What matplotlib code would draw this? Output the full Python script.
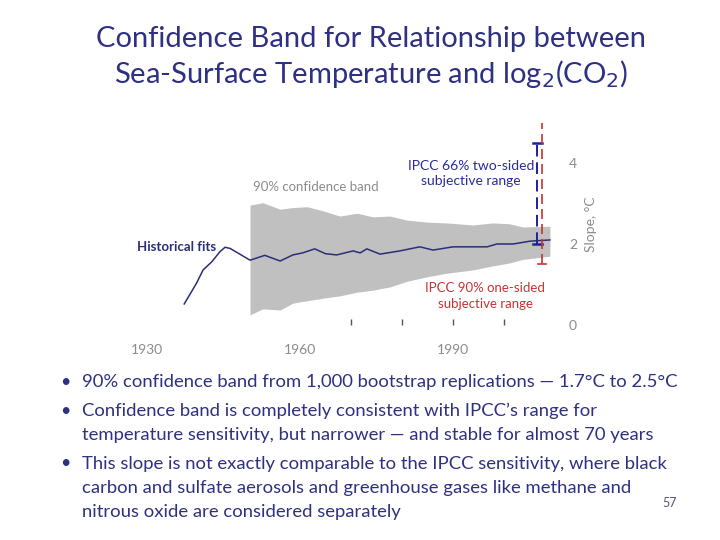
import numpy as np
import matplotlib
matplotlib.use("Agg")
import matplotlib.pyplot as plt
from matplotlib.markers import TICKUP

plt.rcParams['font.family'] = ['Lato', 'DejaVu Sans']

#----------------------------------------------------------------
#   DATA
#----------------------------------------------------------------
fit_years = [1937.3, 1939.7, 1941.0, 1942.7, 1944.3, 1945.3, 1946.3, 1948.2,
             1950.2, 1953.1, 1956.1, 1958.6, 1960.5, 1962.9, 1965.0, 1967.2,
             1970.4, 1971.8, 1973.1, 1975.7, 1979.6, 1983.5, 1986.1, 1990.0,
             1996.7, 1998.6, 2001.8, 2005.1, 2009.0]
fit_slope = [0.52, 1.03, 1.36, 1.56, 1.81, 1.92, 1.89, 1.75,
             1.60, 1.72, 1.58, 1.73, 1.78, 1.88, 1.76, 1.73,
             1.83, 1.78, 1.88, 1.75, 1.83, 1.93, 1.85, 1.93,
             1.93, 2.00, 2.00, 2.07, 2.10]

band_years = [1950.2, 1952.7, 1956.1, 1958.6, 1961.4, 1964.5, 1967.8, 1971.2,
              1974.3, 1977.6, 1981.0, 1984.9, 1988.8, 1993.9, 1997.8, 2001.0,
              2003.7, 2009.0]
band_upper = [2.96, 3.02, 2.86, 2.90, 2.92, 2.82, 2.69, 2.76,
              2.67, 2.69, 2.59, 2.54, 2.52, 2.47, 2.52, 2.50,
              2.42, 2.44]
band_lower = [0.25, 0.40, 0.37, 0.54, 0.60, 0.66, 0.72, 0.81,
              0.86, 0.94, 1.08, 1.19, 1.28, 1.36, 1.46, 1.53,
              1.62, 1.70]

ipcc66_year, ipcc66_lo, ipcc66_hi = 2006.5, 2.0, 4.5
ipcc90_year, ipcc90_lo, ipcc90_hi = 2007.5, 1.5, 5.0

label_years = [1930, 1960, 1990]
tick_years = [1970, 1980, 1990, 2000]

bullets = [
    ["90% confidence band from 1,000 bootstrap replications \u2014 1.7\u00b0C to 2.5\u00b0C"],
    ["Confidence band is completely consistent with IPCC\u2019s range for",
     "temperature sensitivity, but narrower \u2014 and stable for almost 70 years"],
    ["This slope is not exactly comparable to the IPCC sensitivity, where black",
     "carbon and sulfate aerosols and greenhouse gases like methane and",
     "nitrous oxide are considered separately"],
]

navy = '#2E3082'
gray = '#8C8C8C'
red = '#C83232'

#----------------------------------------------------------------
#   FIGURE
#----------------------------------------------------------------
fig = plt.figure(figsize=(7.2, 5.4), dpi=100)
ax = fig.add_axes([121.5 / 720, 1 - 325 / 540, (555 - 121.5) / 720, 202.5 / 540])

ax.fill_between(band_years, band_lower, band_upper, color='#C0C0C0', lw=0)
ax.plot(fit_years, fit_slope, color='#2B2E78', lw=1.1)

# IPCC ranges
ax.plot([ipcc66_year, ipcc66_year], [ipcc66_lo, ipcc66_hi], color='#1F1FA0',
        lw=1.4, ls=(0, (6, 3)))
ax.plot([ipcc66_year - 0.9, ipcc66_year + 0.9], [ipcc66_hi] * 2, color='#1F1FA0', lw=1.8)
ax.plot([ipcc66_year - 0.9, ipcc66_year + 0.9], [ipcc66_lo] * 2, color='#1F1FA0', lw=1.8)
ax.plot([ipcc90_year, ipcc90_year], [ipcc90_lo, ipcc90_hi], color=red,
        lw=1.2, ls=(0, (6, 3)))
ax.plot([ipcc90_year - 0.8, ipcc90_year + 0.8], [ipcc90_lo] * 2, color=red, lw=1.2)

ax.set_xlim(1925, 2010)
ax.set_ylim(0, 5)
for s in ax.spines.values():
    s.set_visible(False)

# small upward tick marks on the base line, year labels without marks
ax.plot(tick_years, [0] * len(tick_years), ls='none', marker=TICKUP, ms=4,
        mew=1, color='#555555', clip_on=False)
ax.set_xticks(label_years)
ax.tick_params(axis='x', length=0, pad=14, labelsize=10, labelcolor=gray)

ax.yaxis.tick_right()
ax.set_yticks([0, 2, 4])
ax.tick_params(axis='y', length=0, pad=10, labelsize=10, labelcolor=gray)
ax.yaxis.set_label_position('right')
ax.set_ylabel('Slope, \u00b0C', color=gray, fontsize=10, labelpad=6)

# annotations
ax.text(1950.8, 3.3, '90% confidence band', color=gray, fontsize=9.5)
ax.text(1943.6, 1.92, 'Historical fits', color='#2B2E78', fontsize=9.5,
        fontweight='bold', ha='right', va='center')
ax.text(1993.5, 3.75, 'IPCC 66% two-sided\nsubjective range', color='#2A2AA0',
        fontsize=10, ha='center', va='center', linespacing=1.3)
ax.text(1996.3, 0.72, 'IPCC 90% one-sided\nsubjective range', color=red,
        fontsize=9.5, ha='center', va='center', linespacing=1.4)

# title
fig.text(0.515, 1 - 58 / 540, 'Confidence Band for Relationship between\n'
         'Sea-Surface Temperature and log$_2$(CO$_2$)',
         ha='center', va='center', fontsize=21, color=navy, linespacing=1.2)

# bullets
y = 382
for lines in bullets:
    fig.text(60 / 720, 1 - y / 540, '\u2022', fontsize=13, color=navy, va='center')
    for ln in lines:
        fig.text(82 / 720, 1 - y / 540, ln, fontsize=13.3, color=navy, va='center')
        y += 24.5
    y += 4

fig.text(670 / 720, 1 - 503 / 540, '57', fontsize=9, color='#555577',
         ha='center', va='center')

fig.savefig('out.png', dpi=100)
